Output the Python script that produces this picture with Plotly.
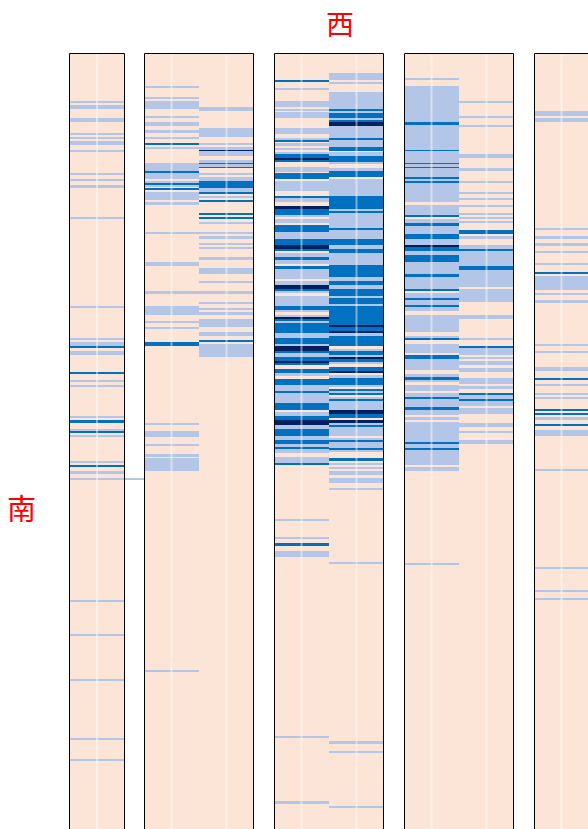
import numpy as np
import plotly.graph_objects as go

# Row segments per column: (first_row, end_row_exclusive, level)
# level: 0 = none, 1 = low, 2 = medium, 3 = high
ROW_FIRST, ROW_LAST = 54, 829

P1 = [(101,103,1),(105,109,1),(118,122,1),(133,135,1),(137,139,1),(141,145,1),(150,152,1),
      (173,175,1),(179,181,1),(185,188,1),(217,219,1),
      (306,308,1),(338,340,1),(342,346,1),(346,348,2),(351,355,1),(372,374,2),(380,382,1),(385,387,1),
      (416,418,1),(420,423,2),(429,431,1),(431,433,2),(435,437,1),(461,463,1),(465,467,2),(471,474,1),(478,480,1),
      (600,602,1),(634,636,1),(679,681,1),(738,740,1),(759,761,1)]

P2A = [(86,88,1),(97,99,1),(101,109,1),(116,118,1),(122,126,1),(130,133,1),(137,139,1),(143,145,2),(147,149,1),
       (163,171,1),(171,173,2),(173,179,1),(181,183,1),(183,185,2),(185,187,1),(188,190,2),(192,200,1),(202,205,1),
       (232,234,1),(262,266,1),(291,294,1),(306,315,1),(321,323,1),(327,329,1),(342,346,2),
       (423,425,1),(431,437,1),(444,446,1),(454,457,1),(458,471,1),(670,672,1)]

P2B = [(107,111,1),(128,137,1),(143,145,1),(147,150,1),(150,151,3),(151,156,1),(160,163,1),(163,164,2),(164,167,1),
       (167,168,2),(173,175,1),(177,181,1),(181,188,2),(188,192,1),(192,194,2),(196,198,1),(200,202,2),(213,215,2),
       (217,219,2),(222,224,1),(232,234,1),(236,239,1),(243,245,1),(247,249,1),(257,260,1),(268,274,1),(281,283,1),
       (291,294,1),(302,304,1),(308,310,1),(312,315,1),(319,327,1),(332,336,1),(340,342,2),(344,357,1)]

P3A = [(80,82,2),(88,90,1),(101,107,1),(109,111,1),(112,118,1),(128,134,1),(138,140,1),(140,142,2),(143,146,1),
       (148,150,1),(152,154,1),(154,158,2),(158,160,3),(160,162,2),(167,172,1),(173,179,2),(181,191,1),(196,198,2),
       (198,202,1),(206,209,3),(209,215,2),(215,217,1),(219,223,1),(225,232,2),(232,239,1),(239,245,2),(245,249,3),
       (249,251,2),(253,257,1),(257,260,2),(260,264,1),(266,269,2),(269,279,1),(281,285,1),(285,289,3),(289,291,2),
       (291,293,1),(296,306,1),(306,310,2),(310,312,1),(315,317,1),(317,319,3),(319,321,2),(321,323,1),(323,333,2),
       (333,338,1),(338,344,2),(344,346,1),(346,351,3),(351,353,2),(353,357,1),(357,361,2),(361,363,3),(363,365,2),
       (369,373,2),(373,376,1),(379,385,2),(385,391,1),(391,393,2),(393,403,1),(403,410,2),(412,416,1),(416,420,2),
       (420,425,3),(425,429,1),(429,436,2),(436,440,1),(440,444,2),(444,447,1),(447,449,2),(449,453,1),(457,463,1),
       (463,465,2),(519,521,1),(537,539,1),(543,546,2),(551,557,1),(736,738,1),(801,804,1)]

P3B = [(73,80,1),(82,84,1),(92,109,1),(109,111,2),(111,113,1),(113,118,2),(118,120,1),(120,122,2),(122,126,3),
       (126,138,1),(138,140,2),(140,147,1),(147,151,2),(152,156,1),(156,162,2),(162,164,1),(168,171,1),(171,177,2),
       (179,196,1),(196,209,2),(209,211,1),(211,213,2),(213,228,1),(228,230,2),(230,239,1),(239,245,2),(245,249,1),
       (249,253,2),(253,265,1),(265,277,2),(277,281,1),(281,285,2),(285,289,1),(289,296,2),(296,298,1),(298,304,2),
       (304,306,1),(306,325,2),(325,327,3),(327,331,2),(331,333,3),(333,336,1),(336,346,2),(349,351,1),(351,355,2),
       (355,357,1),(357,359,3),(359,362,2),(362,364,1),(367,371,2),(371,373,3),(375,378,1),(378,385,2),(385,387,1),
       (389,391,2),(391,393,1),(393,395,2),(397,399,1),(399,401,2),(401,410,1),(410,414,3),(414,418,2),(420,423,3),
       (423,425,1),(425,427,2),(427,436,1),(438,440,1),(440,442,2),(442,448,1),(448,450,2),(450,452,1),(458,461,2),
       (463,465,1),(467,469,1),(471,475,1),(478,483,1),(488,490,1),(562,564,1),(741,744,1),(751,753,1),(806,808,1)]

P4A = [(78,80,1),(86,122,1),(122,125,2),(125,150,1),(150,151,2),(151,163,1),(163,164,2),(164,167,1),(167,168,2),
       (168,177,1),(177,179,2),(179,181,1),(181,183,2),(183,202,1),(205,215,1),(215,217,2),(219,223,1),(223,226,2),
       (226,234,1),(234,239,2),(239,245,1),(245,247,3),(247,251,2),(251,255,1),(255,262,2),(262,274,1),(274,277,2),
       (277,289,1),(289,291,2),(293,298,1),(298,300,2),(300,305,1),(305,307,2),(307,311,1),(315,332,1),(336,338,1),
       (338,340,2),(344,353,1),(355,359,2),(359,370,1),(374,377,1),(377,380,2),(380,382,1),(385,391,1),(393,397,1),
       (397,399,2),(399,407,1),(407,410,2),(410,415,1),(417,420,1),(422,442,1),(442,444,2),(444,448,1),(448,450,2),
       (450,465,1),(467,471,1),(563,565,1)]

P4B = [(101,103,1),(116,118,1),(125,127,1),(154,158,1),(168,171,1),(181,183,1),(192,194,1),(198,200,1),(205,207,1),
       (213,215,1),(217,219,1),(221,223,1),(230,234,2),(236,239,1),(245,249,1),(249,251,2),(251,266,1),(266,270,2),
       (270,287,1),(289,302,1),(315,319,1),(338,340,1),(346,348,2),(348,355,1),(357,359,1),(361,365,1),(368,372,1),
       (378,384,1),(386,389,1),(393,395,2),(395,399,1),(399,401,2),(401,406,1),(408,414,1),(423,427,1),(431,433,1),
       (440,444,1)]

P5A = [(111,116,1),(118,122,1),(228,230,1),(236,239,1),(243,246,1),(251,253,1),(263,265,1),(272,274,2),(276,290,1),
       (293,295,1),(300,303,1),(344,346,1),(351,353,1),(367,371,1),(378,380,2),(384,386,1),(393,395,1),(397,399,1),
       (409,411,2),(413,415,2),(417,420,1),(424,426,2),(430,436,1),(469,471,1),(567,569,1),(590,592,1),(598,600,1)]

# a single row that runs on between the first two panels
GAP12 = [(478,480,1)]

LEVEL_COLORS = ["#FCE4D6", "#B4C6E7", "#0070C0", "#002060"]

rows = np.arange(ROW_FIRST, ROW_LAST + 1)


def column_values(segments, empty=0.0):
    z = np.full(len(rows), empty)
    for a, b, lvl in segments:
        z[(rows >= a) & (rows < b)] = lvl
    return z


def stepped_scale(colors):
    n = len(colors)
    scale = []
    for i, c in enumerate(colors):
        lo = max(0.0, (i - 0.5) / (n - 1))
        hi = min(1.0, (i + 0.5) / (n - 1))
        scale += [[lo, c], [hi, c]]
    return scale


W, H = 588, 829
TOP = 54
# (columns, left px, right px, border style)
panels = [
    ([P1], 69, 125, "full"),
    ([P2A, P2B], 144, 254, "full"),
    ([P3A, P3B], 274, 384, "full"),
    ([P4A, P4B], 404, 514, "full"),
    ([P5A], 534, 588, "open"),
    ([GAP12], 125, 144, None),
]
COL_PX = 55

fig = go.Figure()
scale = stepped_scale(LEVEL_COLORS)
shapes = []
border = dict(color="black", width=1)
top_y = 1 - (TOP - 0.5) / H
for i, (cols, x0, x1, style) in enumerate(panels, start=1):
    xa = "x" if i == 1 else f"x{i}"
    empty = np.nan if style is None else 0.0
    z = np.column_stack([column_values(c, empty) for c in cols])
    # each row's cell spans [row, row + 1)
    fig.add_trace(go.Heatmap(
        z=z, x=list(range(len(cols))), y=rows + 0.5, xaxis=xa, yaxis="y",
        colorscale=scale, zmin=0, zmax=3, showscale=False, hoverinfo="skip",
    ))
    ncols = len(cols)
    if style == "open":
        xr = [-0.5, -0.5 + (x1 - x0) / COL_PX]
    else:
        xr = [-0.5, ncols - 0.5]
    key = "xaxis" if i == 1 else f"xaxis{i}"
    fig.layout[key] = dict(domain=[x0 / W, x1 / W], range=xr, visible=False,
                           anchor="y", fixedrange=True)
    if style is None:
        continue
    xl = (x0 + 0.5) / W
    xrr = (x1 - 0.5) / W
    shapes.append(dict(type="line", xref="paper", yref="paper", x0=xl, x1=xrr if style == "full" else 1,
                       y0=top_y, y1=top_y, line=border))
    shapes.append(dict(type="line", xref="paper", yref="paper", x0=xl, x1=xl, y0=0, y1=top_y,
                       line=border))
    if style == "full":
        shapes.append(dict(type="line", xref="paper", yref="paper", x0=xrr, x1=xrr, y0=0, y1=top_y,
                           line=border))
    # faint light rule down the middle of each column
    for c in range(ncols):
        shapes.append(dict(type="line", xref=xa, yref="y domain", x0=c, x1=c, y0=0, y1=0.999,
                           line=dict(color="rgba(255,255,255,0.45)", width=2), layer="above"))

fig.update_layout(
    width=W, height=H,
    margin=dict(l=0, r=0, t=0, b=0),
    paper_bgcolor="white", plot_bgcolor="white",
    showlegend=False,
    yaxis=dict(domain=[0, 1 - TOP / H], range=[ROW_LAST, ROW_FIRST], visible=False,
               fixedrange=True),
    shapes=shapes,
    annotations=[
        dict(text="西", x=340 / W, y=1 - 23 / H, xref="paper", yref="paper",
             xanchor="center", yanchor="middle",
             showarrow=False, font=dict(size=28, color="red", family="Noto Sans CJK SC")),
        dict(text="南", x=21 / W, y=1 - 507 / H, xref="paper", yref="paper",
             xanchor="center", yanchor="middle",
             showarrow=False, font=dict(size=29, color="red", family="Noto Sans CJK SC")),
    ],
)

fig.write_html("out.html")
